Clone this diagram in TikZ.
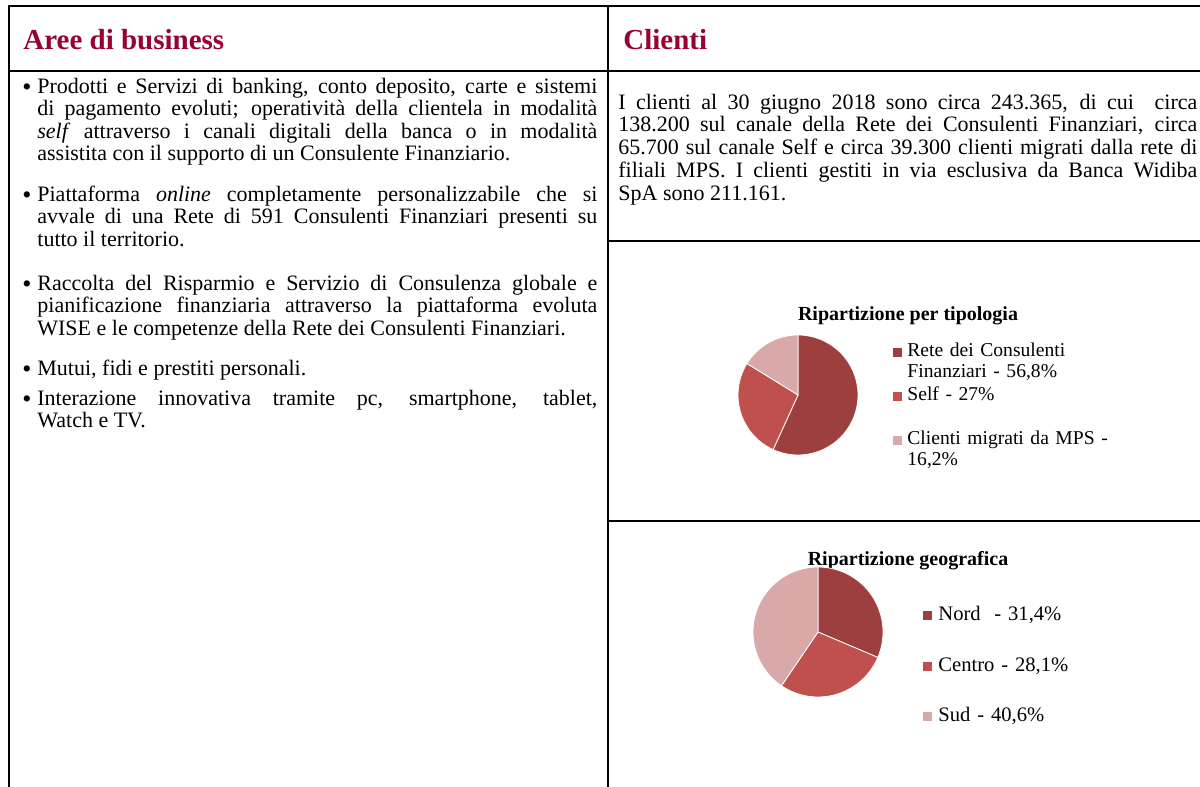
\documentclass[tikz,border=0pt]{standalone}
\usepackage{fontspec}
\setmainfont{Liberation Serif}
\usepackage{xcolor}
\definecolor{hdrred}{HTML}{990033}
\definecolor{piedark}{HTML}{9E3F3F}
\definecolor{piemid}{HTML}{C0504D}
\definecolor{pielight}{HTML}{D9A8A8}
\newcommand{\itembul}{\llap{\raisebox{-1.2pt}{\fontsize{13}{0}\selectfont\textbullet}\hskip3pt}}

\begin{document}
\begin{tikzpicture}[x=0.5pt,y=-0.5pt,
  rule/.style={line width=1pt},
  head/.style={anchor=west,inner sep=0,text=hdrred,
    font=\fontsize{14.5}{16}\selectfont\bfseries},
  body/.style={anchor=base west,inner sep=0,text width=#1,align=justify,
    font=\fontsize{11}{11.25}\selectfont},
  body/.default=280pt,
  pietitle/.style={inner sep=0,font=\fontsize{10}{12}\selectfont\bfseries},
  legsq/.style={fill=#1,minimum size=4.5pt,inner sep=0},
  legtext/.style={anchor=base west,inner sep=0,text width=110pt,align=left,
    font=\fontsize{#1}{10.5}\selectfont},
  legtext/.default=9.8,
  slice/.style={fill=#1,draw=white,line width=0.4pt}]
  \useasboundingbox (0,0) rectangle (1200,787);

  \draw[rule] (1200,6) -- (9,6) -- (9,787);
  \draw[rule] (608,6) -- (608,787);
  \draw[rule] (9,71) -- (1200,71);
  \draw[rule] (608,241) -- (1200,241);
  \draw[rule] (608,521) -- (1200,521);

  \node (hdrAree) [head] at (23,40) {Aree di business};
  \node (hdrClienti) [head] at (623,40) {Clienti};

  \node (item1) [body] at (37,93) {\itembul Prodotti
    e Servizi di banking, conto deposito, carte e sistemi\linebreak
    di pagamento evoluti; operatività della clientela in modalità\linebreak
    \textit{self} attraverso i canali digitali della banca o in modalità\linebreak
    assistita con il supporto di un Consulente Finanziario.};
  \node (item2) [body] at (37,201) {\itembul Piattaforma
    \textit{online} completamente personalizzabile che si\linebreak
    avvale di una Rete di 591 Consulenti Finanziari presenti su\linebreak
    tutto il territorio.};
  \node (item3) [body] at (37,290) {\itembul Raccolta
    del Risparmio e Servizio di Consulenza globale e\linebreak
    pianificazione finanziaria attraverso la piattaforma evoluta\linebreak
    WISE e le competenze della Rete dei Consulenti Finanziari.};
  \node (item4) [body] at (37,375) {\itembul Mutui,
    fidi e prestiti personali.};
  \node (item5) [body] at (37,405) {\itembul Interazione
    innovativa tramite pc, smartphone, tablet,\linebreak
    Watch e TV.};

  \node (txtClienti) [body=289.5pt,font=\fontsize{11}{11.4}\selectfont]
    at (618,109) {I clienti al 30 giugno
    2018 sono circa 243.365, di cui~ circa\linebreak
    138.200 sul canale della Rete dei Consulenti Finanziari, circa\linebreak
    65.700 sul canale Self e circa 39.300 clienti migrati dalla rete di\linebreak
    filiali MPS. I clienti gestiti in via esclusiva da Banca Widiba\linebreak
    SpA sono 211.161.};

  \node (titTipo) [pietitle] at (908,316) {Ripartizione per tipologia};
  \begin{scope}[shift={(798,395)},x=1pt,y=1pt]
    \path[slice=piedark] (0,0) -- (90:30)
      arc[start angle=90,end angle=-114.48,radius=30] -- cycle;
    \path[slice=piemid] (0,0) -- (-114.48:30)
      arc[start angle=-114.48,end angle=-211.68,radius=30] -- cycle;
    \path[slice=pielight] (0,0) -- (-211.68:30)
      arc[start angle=-211.68,end angle=-270,radius=30] -- cycle;
  \end{scope}
  \node (sqRete) [legsq=piedark] at (897,352) {};
  \node (legRete) [legtext] at (907,356) {Rete dei Consulenti\\Finanziari - 56,8\%};
  \node (sqSelf) [legsq=piemid] at (897,396) {};
  \node (legSelf) [legtext] at (907,400) {Self - 27\%};
  \node (sqMps) [legsq=pielight] at (897,440) {};
  \node (legMps) [legtext] at (907,444) {Clienti migrati da MPS -\\16,2\%};

  \node (titGeo) [pietitle] at (908,561) {Ripartizione geografica};
  \begin{scope}[shift={(818,632)},x=1pt,y=1pt]
    \path[slice=piedark] (0,0) -- (90:32.5)
      arc[start angle=90,end angle=-23.04,radius=32.5] -- cycle;
    \path[slice=piemid] (0,0) -- (-23.04:32.5)
      arc[start angle=-23.04,end angle=-124.2,radius=32.5] -- cycle;
    \path[slice=pielight] (0,0) -- (-124.2:32.5)
      arc[start angle=-124.2,end angle=-270,radius=32.5] -- cycle;
  \end{scope}
  \node (sqNord) [legsq=piedark] at (927,615) {};
  \node (legNord) [legtext=10.3] at (938,620) {Nord~ - 31,4\%};
  \node (sqCentro) [legsq=piemid] at (927,666) {};
  \node (legCentro) [legtext=10.3] at (938,671) {Centro - 28,1\%};
  \node (sqSud) [legsq=pielight] at (927,716) {};
  \node (legSud) [legtext=10.3] at (938,721) {Sud - 40,6\%};
\end{tikzpicture}
\end{document}
